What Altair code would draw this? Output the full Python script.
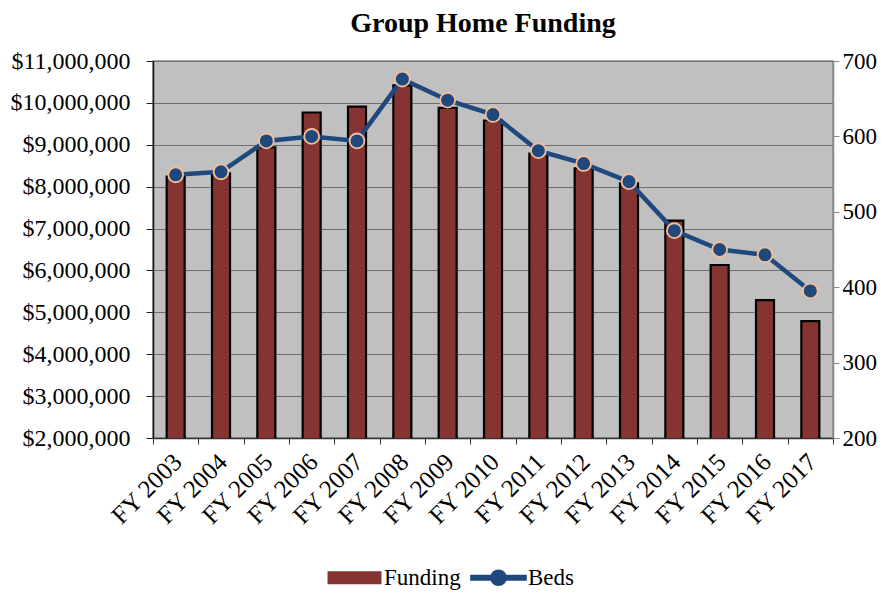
import altair as alt
import pandas as pd

years = ["FY 2003", "FY 2004", "FY 2005", "FY 2006", "FY 2007", "FY 2008", "FY 2009",
         "FY 2010", "FY 2011", "FY 2012", "FY 2013", "FY 2014", "FY 2015", "FY 2016", "FY 2017"]
funding = [8240000, 8320000, 8940000, 9770000, 9910000, 10420000, 9880000,
           9580000, 8790000, 8440000, 8080000, 7190000, 6130000, 5290000, 4790000]
beds = [549, 553, 594, 600, 594, 676, 648, 629, 581, 564, 540, 475, 450, 443, 395]

df = pd.DataFrame({"year": years, "funding": funding, "beds": beds})

FONT = "Liberation Serif, Times New Roman, serif"
BAR = "#863432"
NAVY = "#1F497D"
PEACH = "#F6BE98"
FS = 23

x_enc = alt.X(
    "year:N", sort=years, title=None,
    scale=alt.Scale(paddingInner=0, paddingOuter=0),
    axis=alt.Axis(labelAngle=-45, labelFontSize=25, labelFont=FONT, labelColor="black",
                  labelOverlap=False, labelAlign="right", labelBaseline="top",
                  labelOffset=-7, labelPadding=5,
                  tickBand="extent", tickSize=6, tickColor="#333333", domainColor="#333333",
                  domainWidth=1.5, grid=False),
)

color_enc = alt.Color(
    "series:N",
    scale=alt.Scale(domain=["Funding", "Beds"], range=[BAR, NAVY]),
    legend=alt.Legend(
        title=None, orient="none", direction="horizontal",
        legendX=171, legendY=505, padding=0,
        labelFont=FONT, labelFontSize=FS, labelColor="black",
        symbolSize=196, symbolOffset=19,
        symbolType=alt.ExprRef(
            "datum.label === 'Funding' ? 'M-3.71,-0.8L3.71,-0.8L3.71,0.8L-3.71,0.8Z' : "
            "'M-3.9,-0.29L3.9,-0.29L3.9,0.29L-3.9,0.29Z M1.05,0A1.05,1.05 0 1,1 -1.05,0A1.05,1.05 0 1,1 1.05,0Z'"
        ),
        symbolStrokeColor=alt.ExprRef("datum.label === 'Funding' ? 'black' : 'transparent'"),
        symbolStrokeWidth=2,
        symbolOpacity=1,
        columnPadding=6, labelOffset=18,
    ),
)

bars = alt.Chart(df).transform_calculate(series="'Funding'").mark_bar(
    size=18, stroke="black", strokeWidth=2.2, opacity=1, clip=True
).encode(
    x=x_enc,
    y=alt.Y("funding:Q", title=None,
            scale=alt.Scale(domain=[2000000, 11000000], nice=False, zero=False),
            axis=alt.Axis(orient="left", values=list(range(2000000, 11000001, 1000000)),
                          format="$,.0f", labelFontSize=24, labelFont=FONT, labelColor="black",
                          labelOverlap=False,
                          tickSize=7, tickColor="#222222", domainColor="#111111", domainWidth=1.5,
                          labelPadding=16, grid=True, gridColor="#6E6E6E", gridWidth=1)),
    color=color_enc,
)

line = alt.Chart(df).transform_calculate(series="'Beds'").mark_line(strokeWidth=4.5).encode(
    x=x_enc,
    y=alt.Y("beds:Q", title=None,
            scale=alt.Scale(domain=[200, 700], nice=False, zero=False),
            axis=alt.Axis(orient="right", values=list(range(200, 701, 50)),
                          labelFontSize=FS, labelFont=FONT, labelColor="black",
                          labelOverlap=False,
                          tickSize=6, tickColor="#888888", domainColor="#888888", domainWidth=1.5,
                          labelPadding=3, grid=False)),
    color=color_enc,
)

points = alt.Chart(df).transform_calculate(series="'Beds'").mark_circle(
    size=220, stroke=PEACH, strokeWidth=1.8, opacity=1
).encode(
    x=x_enc,
    y=alt.Y("beds:Q", title=None),
    color=color_enc,
)

chart = alt.layer(bars, alt.layer(line, points)).resolve_scale(y="independent").properties(
    width=680, height=377,
    title=alt.Title("Group Home Funding", font=FONT, fontSize=28, fontWeight="bold",
                    color="black", anchor="middle", offset=11, dx=-10),
    padding={"left": 2, "top": 2, "right": 5, "bottom": 0},
    background="white",
).configure_view(fill="#C0C0C0", stroke="#8C8C8C", strokeWidth=1.5)

chart.save("out.html", embed_options={"renderer": "svg", "actions": False})
